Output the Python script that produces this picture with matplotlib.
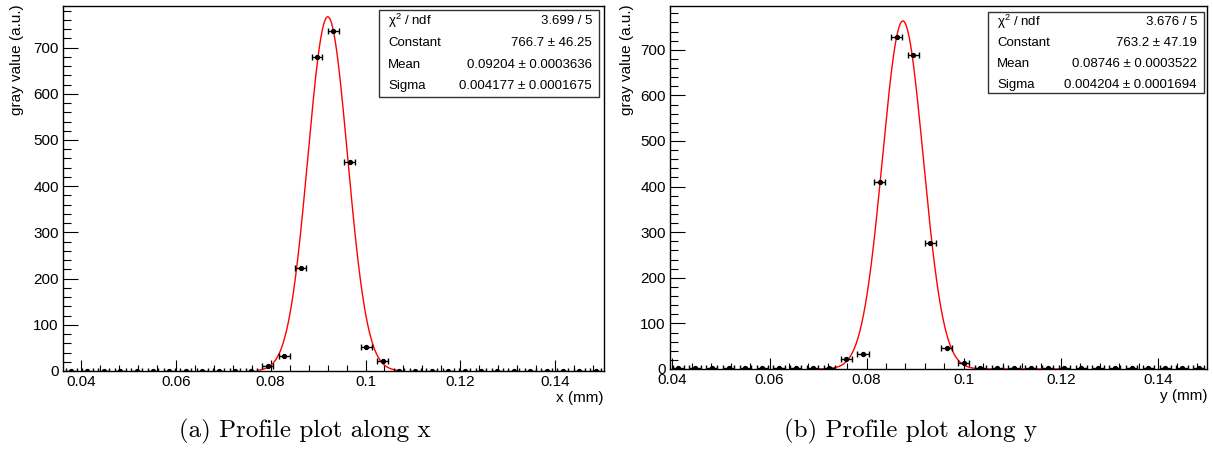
import numpy as np
import matplotlib
matplotlib.use('Agg')
import matplotlib.pyplot as plt
from matplotlib.ticker import MultipleLocator, FormatStrFormatter
from matplotlib.patches import Rectangle

plt.rcParams['font.family'] = ['Liberation Sans', 'DejaVu Sans']
plt.rcParams['mathtext.fontset'] = 'custom'
plt.rcParams['mathtext.rm'] = 'Liberation Sans'
plt.rcParams['mathtext.default'] = 'regular'

# profile along x (bin centres in mm, gray values)
x_pos = [0.0379, 0.04136, 0.04482, 0.04827, 0.05173, 0.05519, 0.05865, 0.06211,
         0.06556, 0.06902, 0.07248, 0.07594, 0.0794, 0.08285, 0.08631, 0.08977,
         0.09323, 0.09669, 0.10014, 0.1036, 0.10706, 0.11052, 0.11398, 0.11743,
         0.12089, 0.12435, 0.12781, 0.13127, 0.13472, 0.13818, 0.14164, 0.1451,
         0.14856]
x_val = [0, 0, 0, 0, 0, 0, 0, 0, 0, 0, 0, 0, 11, 33, 222, 680, 735, 453, 53, 22,
         0, 0, 0, 0, 0, 0, 0, 0, 0, 0, 0, 0, 0]

# profile along y
y_pos = [0.0412, 0.04466, 0.04812, 0.05157, 0.05503, 0.05849, 0.06195, 0.06541,
         0.06886, 0.07232, 0.07578, 0.07924, 0.0827, 0.08615, 0.08961, 0.09307,
         0.09653, 0.09998, 0.10344, 0.1069, 0.11036, 0.11382, 0.11727, 0.12073,
         0.12419, 0.12765, 0.13111, 0.13456, 0.13802, 0.14148, 0.14494, 0.14839]
y_val = [3, 3, 2, 3, 3, 2, 3, 3, 3, 3, 22, 33, 410, 727, 688, 277, 45, 13, 3, 2,
         3, 3, 2, 3, 3, 3, 2, 3, 3, 3, 3, 3]

# gaussian fit results (constant, mean, sigma) and fit ranges
fit_x = dict(const=766.7, mean=0.09204, sigma=0.004177, lo=0.0775, hi=0.107)
fit_y = dict(const=763.2, mean=0.08746, sigma=0.004204, lo=0.0703, hi=0.1197)

stats_x = [('χ$^{2}$ / ndf', '3.699 / 5'), ('Constant', '766.7 ± 46.25'),
           ('Mean', '0.09204 ± 0.0003636'), ('Sigma', '0.004177 ± 0.0001675')]
stats_y = [('χ$^{2}$ / ndf', '3.676 / 5'), ('Constant', '763.2 ± 47.19'),
           ('Mean', '0.08746 ± 0.0003522'), ('Sigma', '0.004204 ± 0.0001694')]

W, H = 1213, 454
fig = plt.figure(figsize=(W / 100, H / 100), dpi=100)


def px_rect(l, t, r, b):
    return [l / W, (H - b) / H, (r - l) / W, (b - t) / H]


def draw_panel(rect, xs, ys, fit, xlim, ylim, xlabel, stats, box, rows, ylab_x):
    ax = fig.add_axes(rect)
    ax.errorbar(xs, ys, xerr=0.00115, fmt='o', color='black', ms=2.8,
                elinewidth=1.0, capsize=2.2, capthick=1.0, zorder=3)
    t = np.linspace(fit['lo'], fit['hi'], 400)
    ax.plot(t, fit['const'] * np.exp(-0.5 * ((t - fit['mean']) / fit['sigma']) ** 2),
            color='#ff0000', lw=1.0, zorder=2)
    ax.set_xlim(*xlim)
    ax.set_ylim(*ylim)
    ax.xaxis.set_major_locator(MultipleLocator(0.02))
    ax.xaxis.set_minor_locator(MultipleLocator(0.004))
    ax.xaxis.set_major_formatter(FormatStrFormatter('%g'))
    ax.yaxis.set_major_locator(MultipleLocator(100))
    ax.yaxis.set_minor_locator(MultipleLocator(20))
    ax.tick_params(axis='x', which='major', direction='in', length=8, width=0.8,
                   labelsize=11, pad=3)
    ax.tick_params(axis='x', which='minor', direction='in', length=4, width=0.8)
    ax.tick_params(axis='y', which='major', direction='in', length=11, width=0.8,
                   labelsize=11, pad=3)
    ax.tick_params(axis='y', which='minor', direction='in', length=5.5, width=0.8)
    for s in ax.spines.values():
        s.set_linewidth(1.0)
    ax.text(1.0, -0.056, xlabel, transform=ax.transAxes, ha='right', va='top',
            fontsize=11)
    fig.text(ylab_x / W, 1 - 4 / H, 'gray value (a.u.)', rotation=90, ha='center',
             va='top', fontsize=11)

    l, t0, r, b = box
    fig.add_artist(Rectangle((l / W, (H - b) / H), (r - l) / W, (b - t0) / H,
                             transform=fig.transFigure, facecolor='white',
                             edgecolor='#333333', lw=1.0, zorder=5))
    for (name, val), yc in zip(stats, rows):
        fig.text((l + 9) / W, 1 - yc / H, name, ha='left', va='center',
                 fontsize=9.5, zorder=6)
        fig.text((r - 7) / W, 1 - yc / H, val, ha='right', va='center',
                 fontsize=9.5, zorder=6)
    return ax


draw_panel(px_rect(63, 6, 604, 371), x_pos, x_val, fit_x, (0.0362, 0.1503),
           (0, 790), 'x (mm)', stats_x, (379, 10, 599, 97), [21, 43, 65, 86], 17)
draw_panel(px_rect(670, 6, 1207, 369), y_pos, y_val, fit_y, (0.0395, 0.1501),
           (0, 796), 'y (mm)', stats_y, (988, 12, 1204, 93), [22, 43, 64, 85], 627)

fig.text(305 / W, 1 - 431 / H, '(a) Profile plot along x', ha='center',
         va='center', fontsize=18, family='cmr10')
fig.text(910 / W, 1 - 431 / H, '(b) Profile plot along y', ha='center',
         va='center', fontsize=18, family='cmr10')

fig.savefig('out.png', dpi=100)
